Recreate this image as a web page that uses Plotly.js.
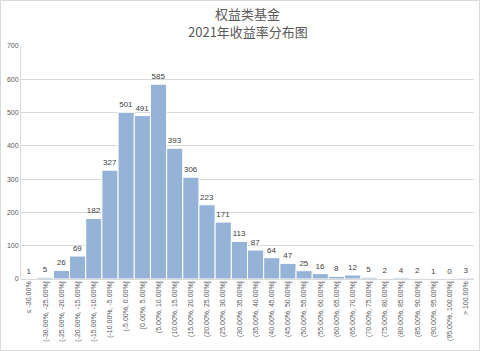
<!DOCTYPE html>
<html><head><meta charset="utf-8">
<script src="https://cdn.plot.ly/plotly-3.0.1.min.js"></script>
<style>html,body{margin:0;padding:0;background:#fff}#chart{width:480px;height:351px}</style>
</head><body><div id="chart"></div>
<script>
const categories = ["≤ -30.00%","(-30.00%, -25.00%]","(-25.00%, -20.00%]","(-20.00%, -15.00%]","(-15.00%, -10.00%]","(-10.00%, -5.00%]","(-5.00%, 0.00%]","[0.00%, 5.00%]","(5.00%, 10.00%]","(10.00%, 15.00%]","(15.00%, 20.00%]","(20.00%, 25.00%]","(25.00%, 30.00%]","(30.00%, 35.00%]","(35.00%, 40.00%]","(40.00%, 45.00%]","(45.00%, 50.00%]","(50.00%, 55.00%]","(55.00%, 60.00%]","(60.00%, 65.00%]","(65.00%, 70.00%]","(70.00%, 75.00%]","(75.00%, 80.00%]","(80.00%, 85.00%]","(85.00%, 90.00%]","(90.00%, 95.00%]","(95.00%, 100.00%]","> 100.00%"];
const counts = [1,5,26,69,182,327,501,491,585,393,306,223,171,113,87,64,47,25,16,8,12,5,2,4,2,1,0,3];
const yTicks = [0,100,200,300,400,500,600,700];
const titleLines = ['权益类基金','2021年收益率分布图'];

const trace = {
  type:'bar', x:categories, y:counts,
  marker:{color:'#95b3d7', line:{color:'#ffffff', width:1}},
  width:1,
  text:counts.map(String), textposition:'outside', cliponaxis:false,
  textfont:{family:'Liberation Sans, Arial, sans-serif', size:8, color:'#404040'},
  hoverinfo:'skip'
};
const titleFont = {family:'Noto Sans CJK SC, sans-serif', size:13, color:'#595959'};
const PW = 453, PH = 233, ML = 21, PB = 279;
const layout = {
  width:480, height:351,
  margin:{l:21, r:6, t:46, b:72},
  paper_bgcolor:'#fff', plot_bgcolor:'#fff',
  showlegend:false, bargap:0,
  annotations:[
    {text:titleLines[0], xref:'paper', yref:'paper', x:0.5, y:1+33/PH, xanchor:'center', yanchor:'middle', showarrow:false, font:titleFont},
    {text:titleLines[1], xref:'paper', yref:'paper', x:0.5, y:1+15/PH, xanchor:'center', yanchor:'middle', showarrow:false, font:titleFont}
  ],
  shapes:[{type:'rect', xref:'paper', yref:'paper', layer:'below',
    x0:(0.5-ML)/PW, x1:(479.5-ML)/PW, y0:(PB-350.5)/PH, y1:(PB-0.5)/PH,
    line:{color:'#d9d9d9', width:1}, fillcolor:'rgba(0,0,0,0)'}],
  xaxis:{type:'category', tickangle:-90, showgrid:false, showline:false, ticks:'',
    tickfont:{family:'Liberation Sans, Arial, sans-serif', size:7, color:'#595959'},
    range:[-0.5, categories.length-0.5], automargin:false},
  yaxis:{range:[0,700], tickvals:yTicks, ticktext:yTicks.map(String), showgrid:true, gridcolor:'#d9d9d9', gridwidth:1,
    showline:true, linecolor:'#d9d9d9', zeroline:true, zerolinecolor:'#d9d9d9', ticks:'',
    tickfont:{family:'Liberation Sans, Arial, sans-serif', size:7, color:'#595959'}, automargin:false}
};
Plotly.newPlot('chart',[trace],layout,{displayModeBar:false, staticPlot:true});
</script></body></html>
